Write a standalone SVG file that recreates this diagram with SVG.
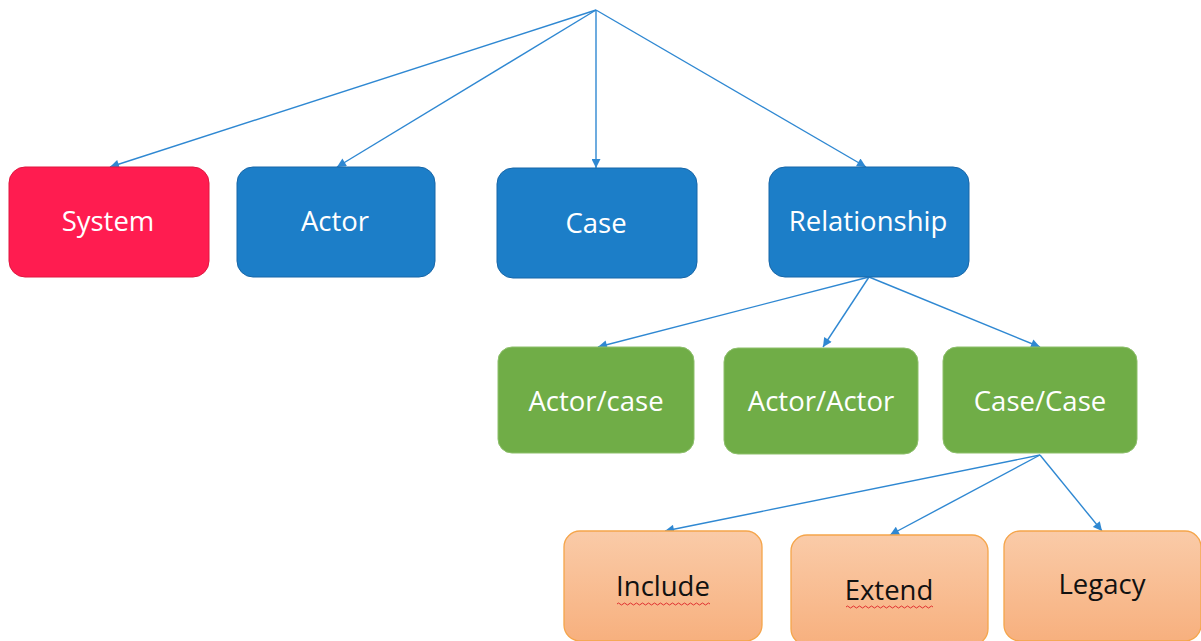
<svg xmlns="http://www.w3.org/2000/svg" width="1201" height="641" viewBox="0 0 1201 641">
  <defs>
    <marker id="arrow" viewBox="0 0 10 10" refX="10" refY="5" markerWidth="11" markerHeight="9" markerUnits="userSpaceOnUse" orient="auto">
      <path d="M0,0 L10,5 L0,10 z" fill="#2F88D2"/>
    </marker>
    <linearGradient id="peach" x1="0" y1="0" x2="0" y2="1">
      <stop offset="0" stop-color="#FACBA8"/>
      <stop offset="1" stop-color="#F7B07E"/>
    </linearGradient>
  </defs>
  <style>
    .lbl { font-family: "Open Sans", "Liberation Sans", sans-serif; font-size: 27.5px; text-anchor: middle; }
    .w { fill: #FFFFFF; }
    .k { fill: #111111; }
    .red { fill: #FF1C50; stroke: #E0163F; stroke-width: 1; }
    .blue { fill: #1C7EC8; stroke: #1766A8; stroke-width: 1; }
    .green { fill: #70AD47; stroke: #8DBF6B; stroke-width: 1; }
    .orange { fill: url(#peach); stroke: #F5A54A; stroke-width: 1.3; }
    .edge { fill: none; stroke: #2F88D2; stroke-width: 1.4; marker-end: url(#arrow); }
    .squiggle { fill: none; stroke: #E03030; stroke-width: 1; }
  </style>

  <!-- connectors -->
  <g id="connectors">
    <line class="edge" x1="596" y1="10" x2="110" y2="167"/>
    <line class="edge" x1="596" y1="10" x2="337" y2="167"/>
    <line class="edge" x1="596" y1="10" x2="596" y2="168"/>
    <line class="edge" x1="596" y1="10" x2="866" y2="167"/>
    <line class="edge" x1="869" y1="277" x2="598" y2="347"/>
    <line class="edge" x1="869" y1="277" x2="823" y2="347"/>
    <line class="edge" x1="869" y1="277" x2="1040" y2="347"/>
    <line class="edge" x1="1040" y1="455" x2="665" y2="531"/>
    <line class="edge" x1="1040" y1="455" x2="890" y2="535"/>
    <line class="edge" x1="1040" y1="455" x2="1102" y2="531"/>
  </g>

  <!-- top row -->
  <g id="system">
    <rect class="red" x="9" y="167" width="200" height="110" rx="16"/>
    <text class="lbl w" x="108" y="231">System</text>
  </g>
  <g id="actor">
    <rect class="blue" x="237" y="167" width="198" height="110" rx="16"/>
    <text class="lbl w" x="335" y="231">Actor</text>
  </g>
  <g id="case">
    <rect class="blue" x="497" y="168" width="200" height="110" rx="16"/>
    <text class="lbl w" x="596" y="233">Case</text>
  </g>
  <g id="relationship">
    <rect class="blue" x="769" y="167" width="200" height="110" rx="16"/>
    <text class="lbl w" x="868" y="231">Relationship</text>
  </g>

  <!-- relationship kinds -->
  <g id="actor-case">
    <rect class="green" x="498" y="347" width="196" height="106" rx="14"/>
    <text class="lbl w" x="596" y="411">Actor/case</text>
  </g>
  <g id="actor-actor">
    <rect class="green" x="724" y="348" width="194" height="106" rx="14"/>
    <text class="lbl w" x="821" y="411">Actor/Actor</text>
  </g>
  <g id="case-case">
    <rect class="green" x="943" y="347" width="194" height="106" rx="14"/>
    <text class="lbl w" x="1040" y="411">Case/Case</text>
  </g>

  <!-- case/case kinds -->
  <g id="include">
    <rect class="orange" x="564" y="531" width="198" height="110" rx="16"/>
    <text class="lbl k" x="663" y="596">Include</text>
    <path class="squiggle" d="M617,604 q1.5,-2 3,0 t3,0 t3,0 t3,0 t3,0 t3,0 t3,0 t3,0 t3,0 t3,0 t3,0 t3,0 t3,0 t3,0 t3,0 t3,0 t3,0 t3,0 t3,0 t3,0 t3,0 t3,0 t3,0 t3,0 t3,0 t3,0 t3,0 t3,0 t3,0 t3,0 t3,0"/>
  </g>
  <g id="extend">
    <rect class="orange" x="791" y="535" width="197" height="110" rx="16"/>
    <text class="lbl k" x="889" y="600">Extend</text>
    <path class="squiggle" d="M846,607 q1.5,-2 3,0 t3,0 t3,0 t3,0 t3,0 t3,0 t3,0 t3,0 t3,0 t3,0 t3,0 t3,0 t3,0 t3,0 t3,0 t3,0 t3,0 t3,0 t3,0 t3,0 t3,0 t3,0 t3,0 t3,0 t3,0 t3,0 t3,0 t3,0 t3,0"/>
  </g>
  <g id="legacy">
    <rect class="orange" x="1004" y="531" width="197" height="110" rx="16"/>
    <text class="lbl k" x="1102" y="594">Legacy</text>
  </g>
</svg>
